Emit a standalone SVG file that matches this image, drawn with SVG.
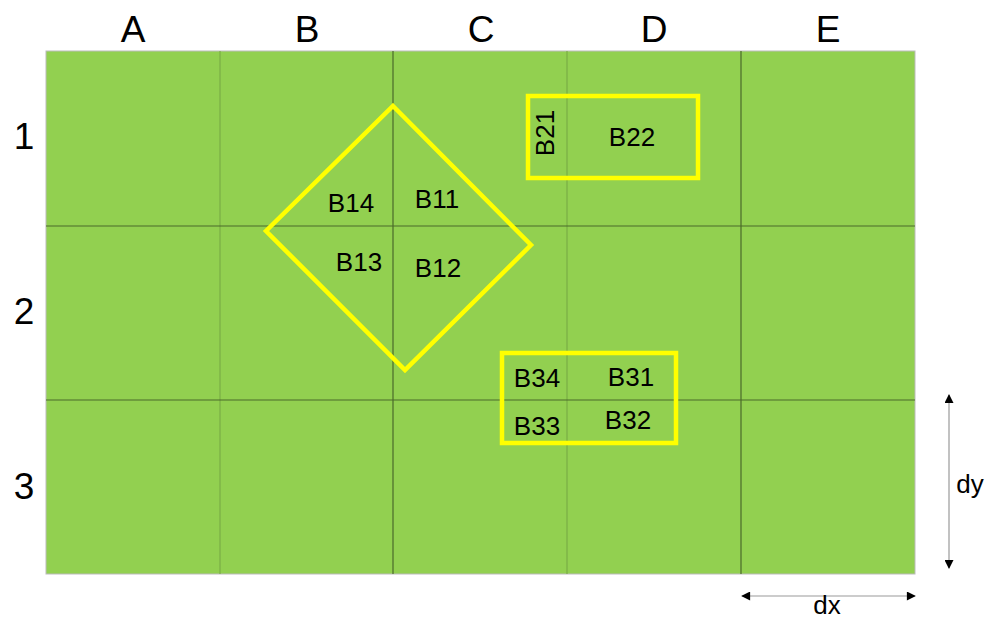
<svg xmlns="http://www.w3.org/2000/svg" width="995" height="621" viewBox="0 0 995 621">
<defs>
<style>
text{font-family:"Liberation Sans",Arial,sans-serif;fill:#000;text-anchor:middle;dominant-baseline:central}
.hdr{font-size:37px}
.lbl{font-size:26px}
.dark{stroke:#4a6a2a;stroke-width:1.2}
.light{stroke:#7aae45;stroke-width:1.2}
.ylw{fill:none;stroke:#ffff00;stroke-width:4.5}
.dim{stroke:#999;stroke-width:1.2}
</style>
<marker id="ah" viewBox="0 0 10 10" refX="9" refY="5" markerWidth="12" markerHeight="9" markerUnits="userSpaceOnUse" orient="auto-start-reverse">
<path d="M0,0 L10,5 L0,10 z" fill="#000"/>
</marker>
</defs>
<rect width="995" height="621" fill="#fff"/>
<g id="grid">
<rect x="46" y="51" width="869" height="523" fill="#92d050" stroke="#bbb" stroke-width="1"/>
<line class="light" x1="220" y1="51" x2="220" y2="574"/>
<line class="light" x1="567" y1="51" x2="567" y2="574"/>
<line class="dark" x1="393" y1="51" x2="393" y2="574"/>
<line class="dark" x1="741" y1="51" x2="741" y2="574"/>
<line class="dark" x1="46" y1="226" x2="915" y2="226"/>
<line class="dark" x1="46" y1="400" x2="915" y2="400"/>
</g>
<g id="headers">
<text class="hdr" x="133" y="29">A</text>
<text class="hdr" x="307" y="29">B</text>
<text class="hdr" x="481" y="29">C</text>
<text class="hdr" x="654" y="29">D</text>
<text class="hdr" x="828" y="29">E</text>
<text class="hdr" x="24" y="136">1</text>
<text class="hdr" x="24" y="311">2</text>
<text class="hdr" x="24" y="486">3</text>
</g>
<g id="diamond">
<polygon class="ylw" points="393,106 531,245 405,370 266,231"/>
<text class="lbl" x="351" y="203">B14</text>
<text class="lbl" x="437" y="199">B11</text>
<text class="lbl" x="359" y="262">B13</text>
<text class="lbl" x="438" y="268">B12</text>
</g>
<g id="box2">
<rect class="ylw" x="528" y="96" width="170" height="82"/>
<text class="lbl" x="632" y="137">B22</text>
<text class="lbl" transform="translate(545,133) rotate(-90)">B21</text>
</g>
<g id="box3">
<rect class="ylw" x="502" y="353" width="174" height="90"/>
<text class="lbl" x="537" y="378">B34</text>
<text class="lbl" x="631" y="377">B31</text>
<text class="lbl" x="537" y="426">B33</text>
<text class="lbl" x="628" y="420">B32</text>
</g>
<g id="connectors">
<line class="dim" x1="949" y1="395" x2="949" y2="568" marker-start="url(#ah)" marker-end="url(#ah)"/>
<line class="dim" x1="742" y1="596" x2="915" y2="596" marker-start="url(#ah)" marker-end="url(#ah)"/>
</g>
<g id="dims">
<text class="lbl" x="970" y="484">dy</text>
<text class="lbl" x="827" y="605">dx</text>
</g>
</svg>
